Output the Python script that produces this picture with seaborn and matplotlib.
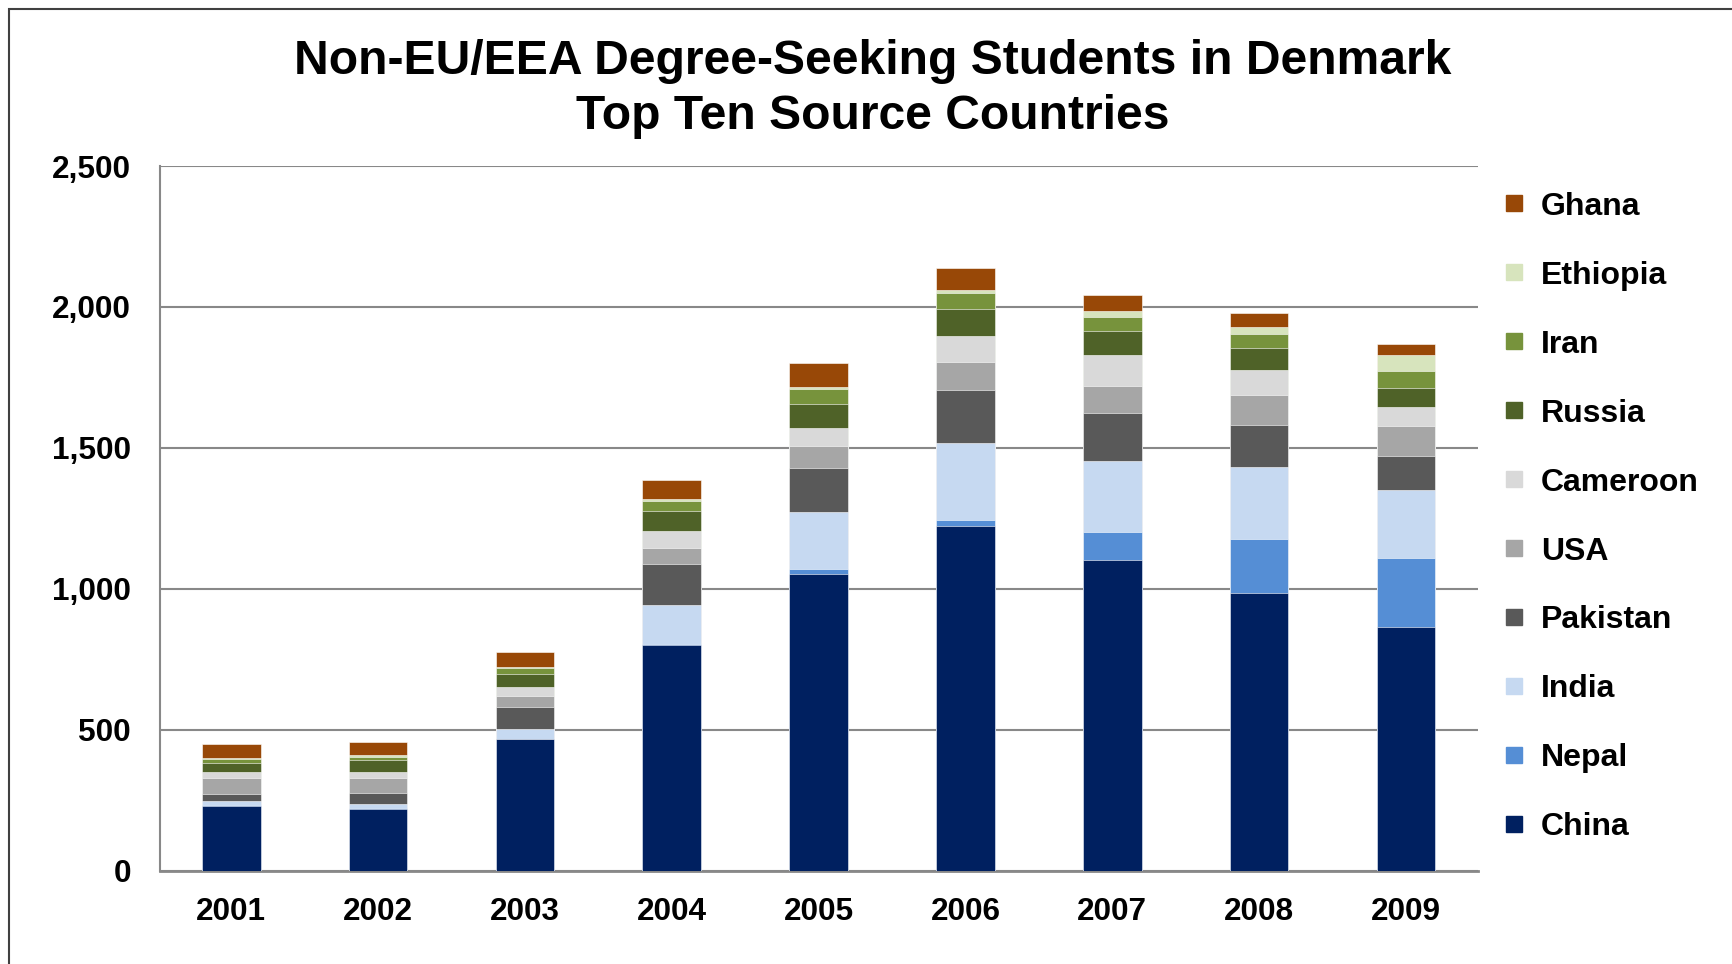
import seaborn as sns
import matplotlib.pyplot as plt
import pandas as pd
from matplotlib.lines import Line2D
from matplotlib.patches import Rectangle

years = ['2001', '2002', '2003', '2004', '2005', '2006', '2007', '2008', '2009']
countries = ['China', 'Nepal', 'India', 'Pakistan', 'USA', 'Cameroon', 'Russia', 'Iran', 'Ethiopia', 'Ghana']

china = [232, 221, 467, 800, 1053, 1223, 1102, 986, 865]
nepal = [3, 2, 2, 4, 17, 20, 100, 190, 245]
india = [13, 15, 33, 139, 203, 275, 252, 257, 241]
pakistan = [26, 39, 80, 147, 156, 189, 170, 149, 121]
usa = [56, 51, 38, 55, 77, 98, 96, 105, 105]
cameroon = [21, 24, 32, 62, 66, 92, 108, 88, 70]
russia = [33, 41, 48, 71, 85, 97, 87, 78, 66]
iran = [14, 11, 19, 35, 52, 54, 50, 51, 59]
ethiopia = [2, 7, 6, 5, 7, 11, 21, 24, 56]
ghana = [51, 48, 51, 70, 85, 81, 56, 52, 42]

colors = ['#002060', '#558ED5', '#C6D9F1', '#595959', '#A6A6A6',
          '#D9D9D9', '#4F6228', '#77933C', '#D7E4BD', '#984807']

df = pd.DataFrame({'Year': years, 'China': china, 'Nepal': nepal, 'India': india,
                   'Pakistan': pakistan, 'USA': usa, 'Cameroon': cameroon,
                   'Russia': russia, 'Iran': iran, 'Ethiopia': ethiopia, 'Ghana': ghana})

# cumulative totals so the bars can be layered into a stack
cum = df[countries].cumsum(axis=1)
cum['Year'] = df['Year']

sns.set_style("white")
plt.rcParams['font.family'] = ['Liberation Sans', 'DejaVu Sans']
plt.rcParams['font.weight'] = 'bold'
plt.rcParams['text.color'] = 'black'
plt.rcParams['xtick.color'] = 'black'
plt.rcParams['ytick.color'] = 'black'

fig = plt.figure(figsize=(17.32, 9.64), dpi=100)
ax = fig.add_axes([0.0924, 0.0965, 0.7609, 0.7313])

for c in reversed(countries):
    sns.barplot(data=cum, x='Year', y=c, color=colors[countries.index(c)],
                width=0.4, saturation=1, errorbar=None, ax=ax,
                edgecolor='white', linewidth=0.4, zorder=3)

ax.set_xlim(-0.485, 8.49)
ax.set_ylim(0, 2500)
ax.set_yticks(range(0, 2501, 500))
ax.set_yticklabels([f'{v:,}' for v in range(0, 2501, 500)])
ax.yaxis.grid(True, color='#888888', linewidth=1.5, zorder=0)
ax.set_axisbelow(True)
ax.set_xlabel('')
ax.set_ylabel('')
ax.tick_params(axis='both', length=0, labelsize=22.7)
ax.tick_params(axis='x', pad=19)
ax.tick_params(axis='y', pad=21)
for lab in ax.get_xticklabels() + ax.get_yticklabels():
    lab.set_fontweight('bold')
for s in ['top', 'right']:
    ax.spines[s].set_visible(False)
ax.spines['left'].set_color('#888888')
ax.spines['left'].set_linewidth(1.5)
ax.spines['bottom'].set_color('#888888')
ax.spines['bottom'].set_linewidth(2)

fig.text(0.504, 0.96, 'Non-EU/EEA Degree-Seeking Students in Denmark\nTop Ten Source Countries',
         ha='center', va='top', fontsize=34.6, fontweight='bold', linespacing=1.3)

handles = [Line2D([0], [0], marker='s', linestyle='', markersize=11,
                  markerfacecolor=colors[i], markeredgecolor=colors[i]) for i in range(len(countries))]
leg = fig.legend(handles[::-1], countries[::-1], loc='upper left',
                 bbox_to_anchor=(0.852, 0.831), frameon=False,
                 prop={'size': 23, 'weight': 'bold'}, labelspacing=1.22,
                 handlelength=0.6, handletextpad=0.55)

fig.patches.append(Rectangle((9 / 1732, -0.1), 1.2, 1.1 - 9 / 964,
                             transform=fig.transFigure, fill=False,
                             edgecolor='#404040', linewidth=1.5))

fig.savefig('out.png', dpi=100)
